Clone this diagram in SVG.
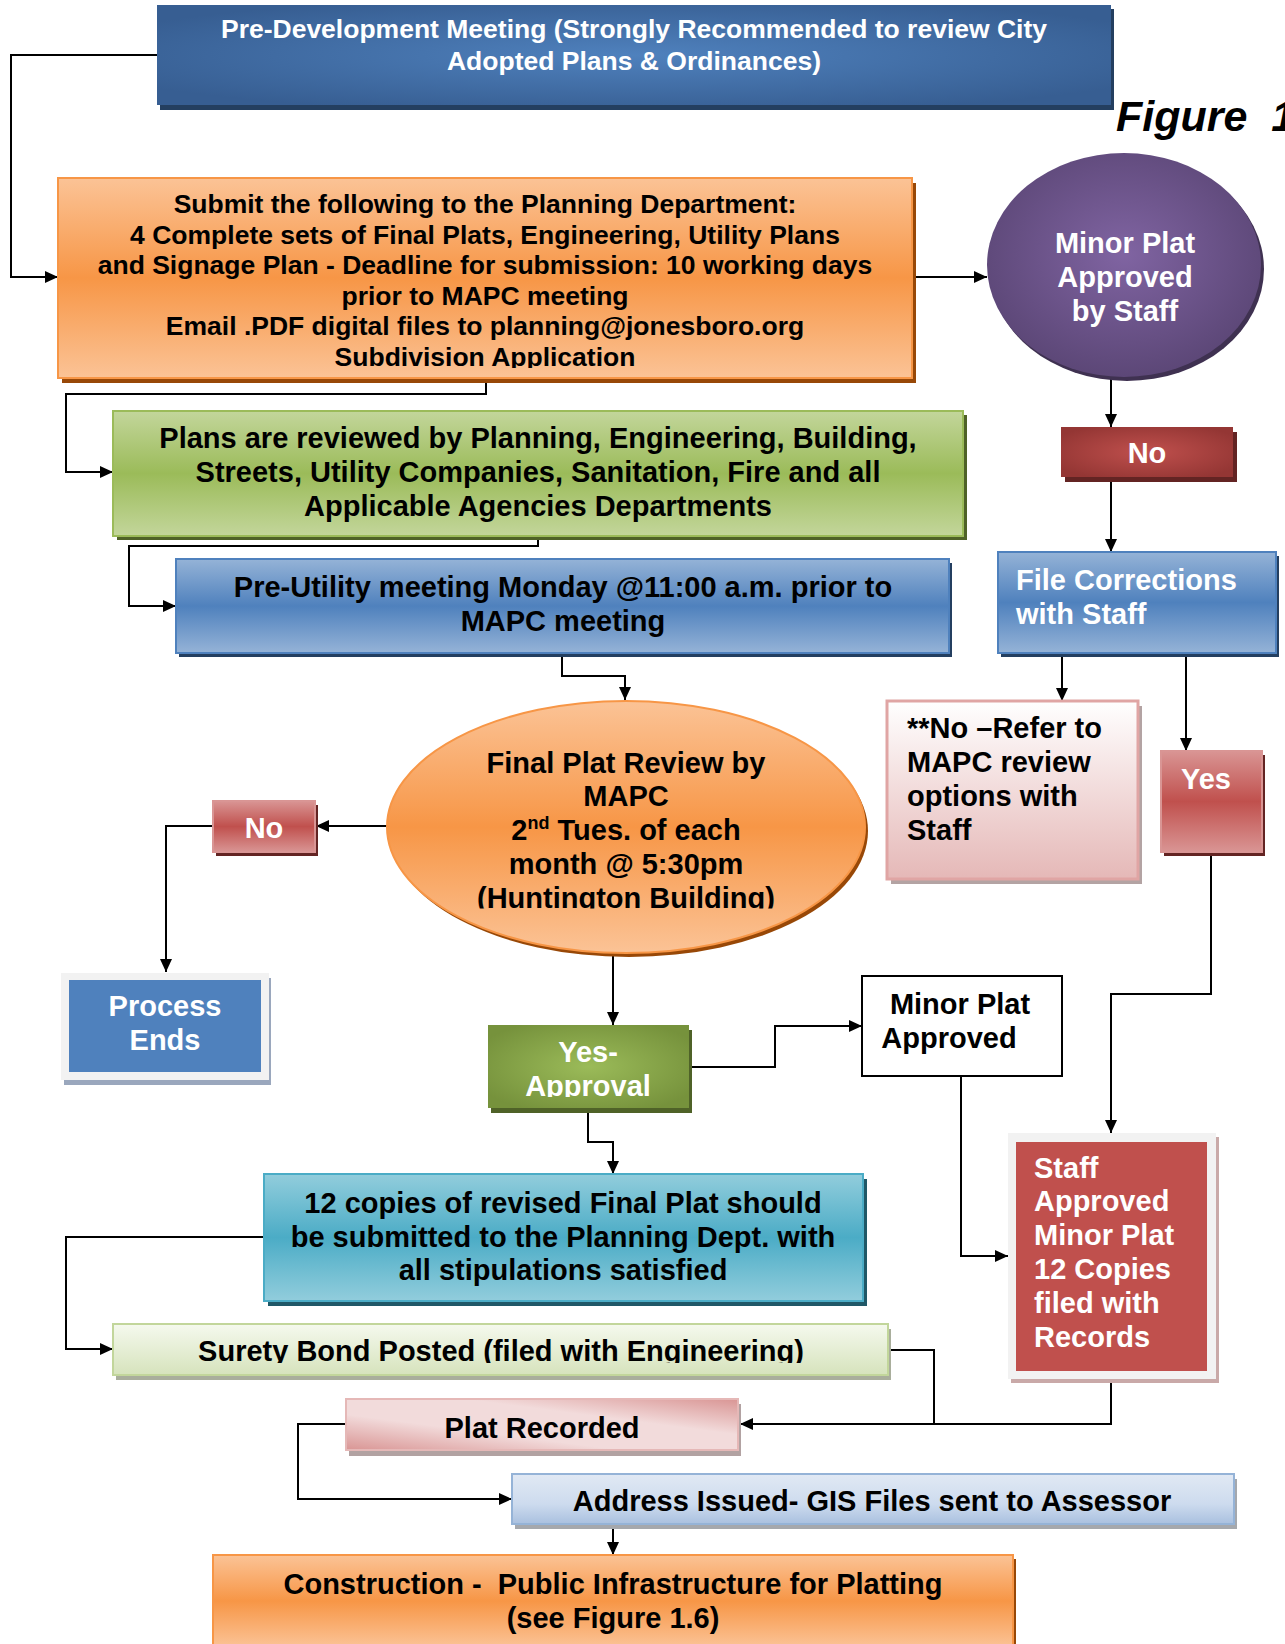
<svg xmlns="http://www.w3.org/2000/svg" width="1285" height="1644" viewBox="0 0 1285 1644">
<style>
.t{font-family:"Liberation Sans",Arial,sans-serif;font-weight:bold}
.w{fill:#fff}
.k{fill:#000}
.c{text-anchor:middle}
.f29{font-size:29px}
.f26{font-size:26.5px}
.conn{fill:none;stroke:#000;stroke-width:2}
</style>
<defs>
<marker id="ah" markerWidth="14" markerHeight="14" refX="13" refY="6" orient="auto" markerUnits="userSpaceOnUse">
<path d="M0,0 L13,6 L0,12 z" fill="#000"/>
</marker>
<radialGradient id="gTop" cx=".5" cy=".5" r=".6"><stop offset="0" stop-color="#4f81bd"/><stop offset="1" stop-color="#375e92"/></radialGradient>
<linearGradient id="gOrange" x1="0" y1="0" x2="0" y2="1"><stop offset="0" stop-color="#fbc396"/><stop offset=".5" stop-color="#f79646"/><stop offset="1" stop-color="#fbc396"/></linearGradient>
<linearGradient id="gGreen" x1="0" y1="0" x2="0" y2="1"><stop offset="0" stop-color="#c3d69b"/><stop offset=".5" stop-color="#9bbb59"/><stop offset="1" stop-color="#c3d69b"/></linearGradient>
<linearGradient id="gBlue" x1="0" y1="0" x2="0" y2="1"><stop offset="0" stop-color="#95b3d7"/><stop offset=".5" stop-color="#4f81bd"/><stop offset="1" stop-color="#95b3d7"/></linearGradient>
<radialGradient id="gPurple" cx=".5" cy=".45" r=".55"><stop offset="0" stop-color="#8064a2"/><stop offset="1" stop-color="#5c4777"/></radialGradient>
<radialGradient id="gDark" cx=".5" cy=".5" r=".6"><stop offset="0" stop-color="#c0504d"/><stop offset="1" stop-color="#943634"/></radialGradient>
<linearGradient id="gRed" x1="0" y1="0" x2="0" y2="1"><stop offset="0" stop-color="#d99594"/><stop offset=".5" stop-color="#c0504d"/><stop offset="1" stop-color="#d99594"/></linearGradient>
<linearGradient id="gPink" x1="0" y1="0" x2="0" y2="1"><stop offset="0" stop-color="#ffffff"/><stop offset="1" stop-color="#e5b8b7"/></linearGradient>
<radialGradient id="gOlive" cx=".5" cy=".5" r=".6"><stop offset="0" stop-color="#9bbb59"/><stop offset="1" stop-color="#76923c"/></radialGradient>
<linearGradient id="gTeal" x1="0" y1="0" x2="0" y2="1"><stop offset="0" stop-color="#92cddc"/><stop offset=".5" stop-color="#4bacc6"/><stop offset="1" stop-color="#92cddc"/></linearGradient>
<linearGradient id="gLGreen" x1="0" y1="0" x2="0" y2="1"><stop offset="0" stop-color="#f5f9ee"/><stop offset="1" stop-color="#d6e3bc"/></linearGradient>
<linearGradient id="gPlat" x1="0" y1="1" x2="1" y2="0"><stop offset="0" stop-color="#d99594"/><stop offset=".35" stop-color="#f2dbdb"/><stop offset=".65" stop-color="#f2dbdb"/><stop offset="1" stop-color="#d99594"/></linearGradient>
<linearGradient id="gAddr" x1="0" y1="0" x2="0" y2="1"><stop offset="0" stop-color="#e1e9f4"/><stop offset=".6" stop-color="#cddbee"/><stop offset="1" stop-color="#a9c0df"/></linearGradient>
<clipPath id="clipSubmit"><rect x="58" y="178" width="854" height="190"/></clipPath>
<clipPath id="clipEll"><rect x="387" y="700" width="478" height="208.5"/></clipPath>
<clipPath id="clipYes"><rect x="488" y="1025" width="201" height="72"/></clipPath>
<clipPath id="clipSurety"><rect x="113" y="1324" width="775" height="39"/></clipPath>
</defs>

<g id="connectors">
<polyline class="conn" points="157,55 11,55 11,277 58,277" marker-end="url(#ah)"/>
<polyline class="conn" points="912,277 987,277" marker-end="url(#ah)"/>
<polyline class="conn" points="486,378 486,394 66,394 66,472 113,472" marker-end="url(#ah)"/>
<polyline class="conn" points="538,536 538,546 129,546 129,606 176,606" marker-end="url(#ah)"/>
<polyline class="conn" points="562,653 562,676 625,676 625,700" marker-end="url(#ah)"/>
<polyline class="conn" points="387,826 316,826" marker-end="url(#ah)"/>
<polyline class="conn" points="213,826 166,826 166,972" marker-end="url(#ah)"/>
<polyline class="conn" points="613,953 613,1025" marker-end="url(#ah)"/>
<polyline class="conn" points="689,1067 775,1067 775,1026 862,1026" marker-end="url(#ah)"/>
<polyline class="conn" points="961,1076 961,1256 1008,1256" marker-end="url(#ah)"/>
<polyline class="conn" points="588,1108 588,1142 613,1142 613,1174" marker-end="url(#ah)"/>
<polyline class="conn" points="264,1237 66,1237 66,1349 113,1349" marker-end="url(#ah)"/>
<polyline class="conn" points="888,1350 934,1350 934,1424"/>
<polyline class="conn" points="1111,1379 1111,1424 740,1424" marker-end="url(#ah)"/>
<polyline class="conn" points="346,1424 298,1424 298,1499 512,1499" marker-end="url(#ah)"/>
<polyline class="conn" points="613,1524 613,1555" marker-end="url(#ah)"/>
<polyline class="conn" points="1111,378 1111,427" marker-end="url(#ah)"/>
<polyline class="conn" points="1111,477 1111,552" marker-end="url(#ah)"/>
<polyline class="conn" points="1062,653 1062,701" marker-end="url(#ah)"/>
<polyline class="conn" points="1186,653 1186,751" marker-end="url(#ah)"/>
<polyline class="conn" points="1211,852 1211,994 1111,994 1111,1133" marker-end="url(#ah)"/>
</g>

<g id="figure-label">
<text class="t" x="1116" y="131" font-size="43" font-style="italic" fill="#000" style="white-space:pre">Figure  1</text>
</g>

<g id="pre-development">
<rect x="160" y="9" width="954" height="101" fill="#243f60"/>
<rect x="157" y="5" width="954" height="100" fill="url(#gTop)"/>
<text class="t w c f26" x="634" y="38">Pre-Development Meeting (Strongly Recommended to review City</text>
<text class="t w c f26" x="634" y="70">Adopted Plans &amp; Ordinances)</text>
</g>

<g id="submit">
<rect x="62" y="183" width="854" height="200" fill="#984807"/>
<rect x="58" y="178" width="854" height="200" fill="url(#gOrange)" stroke="#f79646" stroke-width="2"/>
<g clip-path="url(#clipSubmit)">
<text class="t k c f26" x="485" y="213">Submit the following to the Planning Department:</text>
<text class="t k c f26" x="485" y="244">4 Complete sets of Final Plats, Engineering, Utility Plans</text>
<text class="t k c f26" x="485" y="274">and Signage Plan - Deadline for submission: 10 working days</text>
<text class="t k c f26" x="485" y="305">prior to MAPC meeting</text>
<text class="t k c f26" x="485" y="335">Email .PDF digital files to planning@jonesboro.org</text>
<text class="t k c f26" x="485" y="366">Subdivision Application</text>
</g>
</g>

<g id="minor-plat-staff">
<ellipse cx="1127" cy="269" rx="137" ry="112" fill="#3f3151"/>
<ellipse cx="1124" cy="265" rx="137" ry="112" fill="url(#gPurple)"/>
<text class="t w c f29" x="1125" y="253">Minor Plat</text>
<text class="t w c f29" x="1125" y="287">Approved</text>
<text class="t w c f29" x="1125" y="321">by Staff</text>
</g>

<g id="plans-reviewed">
<rect x="117" y="415" width="850" height="125" fill="#4f6228"/>
<rect x="113" y="411" width="850" height="125" fill="url(#gGreen)" stroke="#9bbb59" stroke-width="2"/>
<text class="t k c f29" x="538" y="448">Plans are reviewed by Planning, Engineering, Building,</text>
<text class="t k c f29" x="538" y="482">Streets, Utility Companies, Sanitation, Fire and all</text>
<text class="t k c f29" x="538" y="516">Applicable Agencies Departments</text>
</g>

<g id="no-right">
<rect x="1065" y="432" width="172" height="50" fill="#632423"/>
<rect x="1061" y="427" width="172" height="50" fill="url(#gDark)"/>
<text class="t w c f29" x="1147" y="463">No</text>
</g>

<g id="pre-utility">
<rect x="179" y="563" width="773" height="94" fill="#243f60"/>
<rect x="176" y="559" width="773" height="94" fill="url(#gBlue)" stroke="#4f81bd" stroke-width="2"/>
<text class="t k c f29" x="563" y="597">Pre-Utility meeting Monday @11:00 a.m. prior to</text>
<text class="t k c f29" x="563" y="631">MAPC meeting</text>
</g>

<g id="file-corrections">
<rect x="1001" y="556" width="278" height="101" fill="#243f60"/>
<rect x="998" y="552" width="278" height="101" fill="url(#gBlue)" stroke="#4f81bd" stroke-width="2"/>
<text class="t w f29" x="1016" y="590">File Corrections</text>
<text class="t w f29" x="1016" y="624">with Staff</text>
</g>

<g id="no-refer">
<rect x="891" y="706" width="251" height="178" fill="#b3a3a3"/>
<rect x="887" y="701" width="251" height="178" fill="url(#gPink)" stroke="#e0a5a4" stroke-width="3"/>
<text class="t k f29" x="907" y="738">**No –Refer to</text>
<text class="t k f29" x="907" y="772">MAPC review</text>
<text class="t k f29" x="907" y="806">options with</text>
<text class="t k f29" x="907" y="840">Staff</text>
</g>

<g id="yes-right">
<rect x="1164" y="755" width="101" height="101" fill="#632423"/>
<rect x="1161" y="751" width="101" height="101" fill="url(#gRed)" stroke="#d99594" stroke-width="2"/>
<text class="t w c f29" x="1206" y="789">Yes</text>
</g>

<g id="final-plat-review">
<ellipse cx="629" cy="831" rx="239" ry="126" fill="#984807"/>
<ellipse cx="626" cy="827" rx="239" ry="126" fill="url(#gOrange)" stroke="#f79646" stroke-width="2"/>
<g clip-path="url(#clipEll)">
<text class="t k c f29" x="626" y="773">Final Plat Review by</text>
<text class="t k c f29" x="626" y="806">MAPC</text>
<text class="t k c f29" x="626" y="840">2<tspan font-size="18" dy="-11">nd</tspan><tspan dy="11"> Tues. of each</tspan></text>
<text class="t k c f29" x="626" y="874">month @ 5:30pm</text>
<text class="t k c f29" x="626" y="908">(Huntington Building)</text>
</g>
</g>

<g id="no-left">
<rect x="216" y="805" width="102" height="51" fill="#632423"/>
<rect x="213" y="801" width="102" height="51" fill="url(#gRed)" stroke="#d99594" stroke-width="2"/>
<text class="t w c f29" x="264" y="838">No</text>
</g>

<g id="process-ends">
<rect x="64" y="978" width="207" height="107" fill="#9aa7bd"/>
<rect x="61" y="973" width="208" height="107" fill="#f2f2f2"/>
<rect x="69" y="980" width="192" height="92" fill="#4f81bd"/>
<text class="t w c f29" x="165" y="1016">Process</text>
<text class="t w c f29" x="165" y="1050">Ends</text>
</g>

<g id="yes-approval">
<rect x="491" y="1030" width="201" height="83" fill="#4f6228"/>
<rect x="488" y="1025" width="201" height="83" fill="url(#gOlive)"/>
<g clip-path="url(#clipYes)">
<text class="t w c f29" x="588" y="1062">Yes-</text>
<text class="t w c f29" x="588" y="1096">Approval</text>
</g>
</g>

<g id="minor-plat-approved">
<rect x="862" y="976" width="200" height="100" fill="#fff" stroke="#000" stroke-width="2"/>
<text class="t k c f29" x="960" y="1014">Minor Plat</text>
<text class="t k c f29" x="949" y="1048">Approved</text>
</g>

<g id="staff-approved">
<rect x="1011" y="1137" width="208" height="246" fill="#c9a9a8"/>
<rect x="1008" y="1133" width="208" height="246" fill="#f2f2f2"/>
<rect x="1016" y="1142" width="191" height="229" fill="#c0504d"/>
<text class="t w f29" x="1034" y="1178">Staff</text>
<text class="t w f29" x="1034" y="1211">Approved</text>
<text class="t w f29" x="1034" y="1245">Minor Plat</text>
<text class="t w f29" x="1034" y="1279">12 Copies</text>
<text class="t w f29" x="1034" y="1313">filed with</text>
<text class="t w f29" x="1034" y="1347">Records</text>
</g>

<g id="twelve-copies">
<rect x="268" y="1179" width="599" height="127" fill="#205867"/>
<rect x="264" y="1174" width="599" height="127" fill="url(#gTeal)" stroke="#4bacc6" stroke-width="2"/>
<text class="t k c f29" x="563" y="1213">12 copies of revised Final Plat should</text>
<text class="t k c f29" x="563" y="1247">be submitted to the Planning Dept. with</text>
<text class="t k c f29" x="563" y="1280">all stipulations satisfied</text>
</g>

<g id="surety">
<rect x="116" y="1329" width="775" height="51" fill="#a9ae9c"/>
<rect x="113" y="1324" width="775" height="51" fill="url(#gLGreen)" stroke="#c2d69b" stroke-width="2"/>
<g clip-path="url(#clipSurety)">
<text class="t k c f29" x="501" y="1361">Surety Bond Posted (filed with Engineering)</text>
</g>
</g>

<g id="plat-recorded">
<rect x="349" y="1404" width="392" height="52" fill="#b2a2a2"/>
<rect x="346" y="1399" width="392" height="51" fill="url(#gPlat)" stroke="#e5b8b7" stroke-width="2"/>
<text class="t k c f29" x="542" y="1438">Plat Recorded</text>
</g>

<g id="address-issued">
<rect x="515" y="1479" width="722" height="50" fill="#a5a8ad"/>
<rect x="512" y="1474" width="722" height="50" fill="url(#gAddr)" stroke="#95b3d7" stroke-width="2"/>
<text class="t k c f29" x="872" y="1511">Address Issued- GIS Files sent to Assessor</text>
</g>

<g id="construction">
<rect x="216" y="1559" width="800" height="90" fill="#984807"/>
<rect x="213" y="1555" width="800" height="92" fill="url(#gOrange)" stroke="#f79646" stroke-width="2"/>
<text class="t k c f29" x="613" y="1594" style="white-space:pre">Construction -  Public Infrastructure for Platting</text>
<text class="t k c f29" x="613" y="1628">(see Figure 1.6)</text>
</g>
</svg>
